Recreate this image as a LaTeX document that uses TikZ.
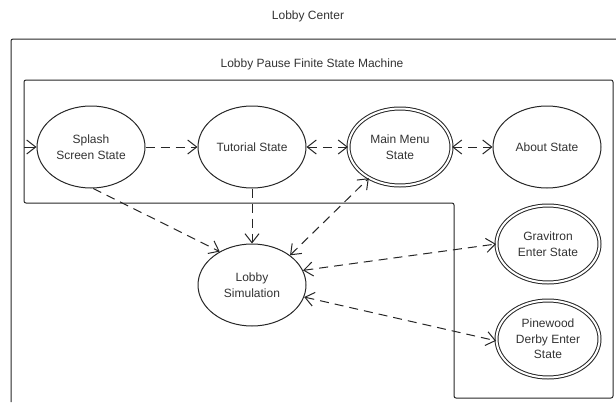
\documentclass[tikz,border=0pt]{standalone}
\usepackage{fontspec}
\setmainfont{Liberation Sans}
\usepackage{tikz}
\usetikzlibrary{arrows.meta,shapes.geometric}

\begin{document}
\begin{tikzpicture}[x=1pt, y=-1pt, line width=1pt, draw=black!85,
  every node/.style={font=\fontsize{12}{15.5}\selectfont, text=black!80},
  state/.style={draw, ellipse, align=center, minimum width=108pt, minimum height=82pt, inner sep=0pt},
  final/.style={state, double, double distance=2pt, minimum width=103pt, minimum height=77pt},
  frame/.style={draw, rounded corners=2pt},
  trans/.style={-{Straight Barb[length=9pt,width=14pt]}, dash pattern=on 9pt off 6pt},
  both/.style={{Straight Barb[length=9pt,width=14pt]}-{Straight Barb[length=9pt,width=14pt]}, dash pattern=on 9pt off 6pt}]
\useasboundingbox (0,0) rectangle (616,402);
% frames
\node (centertitle) at (308,16) {Lobby Center};
\draw[frame] (11,402) -- (11,39) -- (620,39);
\node (fsmtitle) at (312,64) {Lobby Pause Finite State Machine};
\draw[frame] (24,80) -- (613,80) -- (613,398) -- (454,398) -- (454,203) -- (24,203) -- cycle;
% states
\coordinate (start) at (24,147);
\node[state] (splash) at (91,147) {Splash\\Screen State};
\node[state] (tutorial) at (252,147) {Tutorial State};
\node[final] (mainmenu) at (400,147) {Main Menu\\State};
\node[state] (about) at (547,147) {About State};
\node[state] (lobbysim) at (252,285) {Lobby\\Simulation};
\node[final] (gravitron) at (548,244) {Gravitron\\Enter State};
\node[final] (pinewood) at (548,339) {Pinewood\\Derby Enter\\State};
% transitions
\draw[-{Straight Barb[length=9pt,width=14pt]}] (start) -- (splash.west);
\draw[trans] (splash.east) -- (tutorial.west);
\draw[both] (tutorial.east) -- (mainmenu.west);
\draw[both] (mainmenu.east) -- (about.west);
\draw[trans] (splash.-87) -- (lobbysim.134);
\draw[trans] (tutorial.south) -- (lobbysim.north);
\draw[both] (lobbysim.38) -- (mainmenu.225);
\draw[both] (lobbysim.16) -- (gravitron.west);
\draw[both] (lobbysim.-13) -- (pinewood.182);
\end{tikzpicture}
\end{document}
